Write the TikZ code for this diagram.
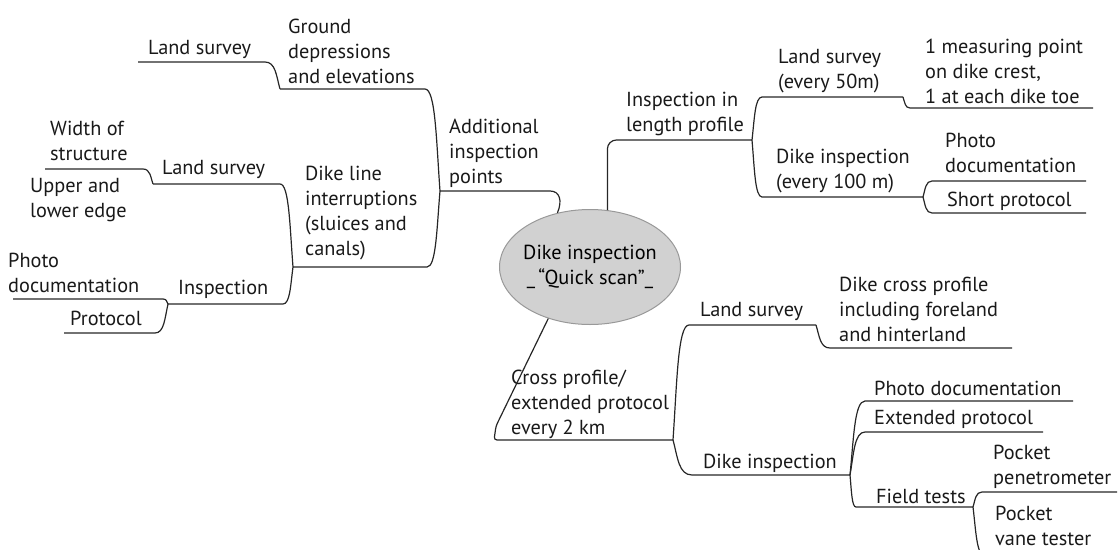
\documentclass[tikz,border=0pt]{standalone}
\usepackage{fontspec}
\setmainfont{PT Sans}
\usetikzlibrary{shapes.geometric,calc}
\begin{document}
\begin{tikzpicture}[x=1pt,y=-1pt,
  txt/.style={anchor=west,align=left,inner sep=0pt,font=\fontsize{20.3}{25}\selectfont,text=black!90},
  ln/.style={draw=black!85,line width=1.2pt},
  branch/.style={to path={let \p1=(\tikztostart),\p2=(\tikztotarget) in
     .. controls ({\x1+0.25*(\x2-\x1)},{\y1+0.5*(\y2-\y1)}) and ({\x2-0.7*(\x2-\x1)},{\y2}) .. (\tikztotarget)}}]
\useasboundingbox (0,0) rectangle (1119,549);
% centre
\node[ellipse,draw=black!40,fill=black!18,line width=1pt,minimum width=181pt,minimum height=115pt,
      inner xsep=-10pt,inner ysep=0pt,align=center,font=\fontsize{20.3}{25}\selectfont] (c) at (590,267)
      {Dike inspection\\\_\,“Quick scan”\_};
% texts
\node[txt] (tls1) at (148,49) {Land survey};
\node[txt] (tgd) at (288,51) {Ground\\depressions\\and elevations};
\node[txt] (taip) at (449,153) {Additional\\inspection\\points};
\node[txt] (twos) at (50,141) {Width of\\structure};
\node[txt] (tls2) at (162,169) {Land survey};
\node[txt] (tule) at (30,200) {Upper and\\lower edge};
\node[txt] (tdli) at (305,213) {Dike line\\interruptions\\(sluices and\\canals)};
\node[txt] (tins) at (178,289) {Inspection};
\node[txt] (tpd1) at (8,273) {Photo\\documentation};
\node[txt] (tpro) at (70,318) {Protocol};
\node[txt] (tilp) at (626,114) {Inspection in\\length profile};
\node[txt] (tls3) at (778,71) {Land survey\\(every 50m)};
\node[txt] (tmp) at (925,71) {1 measuring point\\on dike crest,\\1 at each dike toe};
\node[txt] (tdi1) at (776,171) {Dike inspection\\(every 100 m)};
\node[txt] (tpd2) at (945,153) {Photo\\documentation};
\node[txt] (tsp) at (947,201) {Short protocol};
\node[txt] (tcp) at (511,404) {Cross profile/\\extended protocol\\every 2 km};
\node[txt] (tls4) at (700,311) {Land survey};
\node[txt] (tdcp) at (839,309) {Dike cross profile\\including foreland\\and hinterland};
\node[txt] (tdi2) at (703,463) {Dike inspection};
\node[txt] (tpd3) at (874,388) {Photo documentation};
\node[txt] (tep) at (874,419) {Extended protocol};
\node[txt] (tft) at (876,496) {Field tests};
\node[txt] (tpp) at (993,467) {Pocket\\penetrometer};
\node[txt] (tpv) at (995,526) {Pocket\\vane tester};
% underline end points
\coordinate (ls1R) at (265,62);  \coordinate (ls1L) at (138,62);
\coordinate (gdR) at (425,89);   \coordinate (gdL) at (280,89);
\coordinate (aipL) at (440,191); \coordinate (aipR) at (550,191);
\coordinate (wosR) at (143,169); \coordinate (wosL) at (45,169);
\coordinate (ls2R) at (280,184); \coordinate (ls2L) at (153,184);
\coordinate (dliR) at (427,267); \coordinate (dliL) at (293,267);
\coordinate (insR) at (283,304); \coordinate (insL) at (168,304);
\coordinate (pd1R) at (163,299); \coordinate (pd1L) at (13,299);
\coordinate (proR) at (155,333); \coordinate (proL) at (64,333);
\coordinate (ilpL) at (616,140); \coordinate (ilpR) at (752,140);
\coordinate (ls3L) at (762,97);  \coordinate (ls3R) at (903,97);
\coordinate (mpL) at (910,108);  \coordinate (mpR) at (1093,108);
\coordinate (di1L) at (762,197); \coordinate (di1R) at (923,197);
\coordinate (pd2L) at (932,181); \coordinate (pd2R) at (1086,181);
\coordinate (spL) at (932,213);  \coordinate (spR) at (1086,213);
\coordinate (cpK) at (496,426);
\coordinate (cpL) at (494,440);  \coordinate (cpR) at (673,440);
\coordinate (ls4L) at (689,325); \coordinate (ls4R) at (816,325);
\coordinate (dcpL) at (830,348); \coordinate (dcpR) at (1012,348);
\coordinate (di2L) at (692,475); \coordinate (di2R) at (850,475);
\coordinate (pd3L) at (865,401); \coordinate (pd3R) at (1073,401);
\coordinate (epL) at (865,432);  \coordinate (epR) at (1043,432);
\coordinate (ftL) at (856,507);  \coordinate (ftR) at (973,507);
\coordinate (ppL) at (982,492);  \coordinate (ppR) at (1117,492);
\coordinate (pvL) at (985,556);  \coordinate (pvR) at (1119,556);
% connectors from centre
\draw[ln] (c.121) .. controls +(5,-12) and +(10,0) .. (aipR) -- (aipL);
\draw[ln,rounded corners=9pt] (c.73.3) |- (ilpR);
\draw[ln,rounded corners=3pt] (c.231.6) -- (cpK) -- (cpL) -- (cpR);
% left branches
\draw[ln] (aipL) to[branch] (gdR) -- (gdL);
\draw[ln] (gdL) to[branch] (ls1R) -- (ls1L);
\draw[ln] (aipL) to[branch] (dliR) -- (dliL);
\draw[ln] (dliL) to[branch] (ls2R) -- (ls2L);
\draw[ln] (ls2L) to[branch] (wosR) -- (wosL);
\draw[ln] (dliL) to[branch] (insR) -- (insL);
\draw[ln] (insL) to[branch] (pd1R) -- (pd1L);
\draw[ln] (insL) to[branch] (proR) -- (proL);
% right upper branches
\draw[ln] (ilpR) to[branch] (ls3L) -- (ls3R);
\draw[ln] (ls3R) to[branch] (mpL) -- (mpR);
\draw[ln] (ilpR) to[branch] (di1L) -- (di1R);
\draw[ln] (di1R) to[branch] (pd2L) -- (pd2R);
\draw[ln] (di1R) to[branch] (spL) -- (spR);
% right lower branches
\draw[ln] (cpR) to[branch] (ls4L) -- (ls4R);
\draw[ln] (ls4R) to[branch] (dcpL) -- (dcpR);
\draw[ln] (cpR) to[branch] (di2L) -- (di2R);
\draw[ln] (di2R) to[branch] (pd3L) -- (pd3R);
\draw[ln] (di2R) to[branch] (epL) -- (epR);
\draw[ln] (di2R) to[branch] (ftL) -- (ftR);
\draw[ln] (ftR) to[branch] (ppL) -- (ppR);
\draw[ln] (ftR) to[branch] (pvL) -- (pvR);
\end{tikzpicture}
\end{document}
